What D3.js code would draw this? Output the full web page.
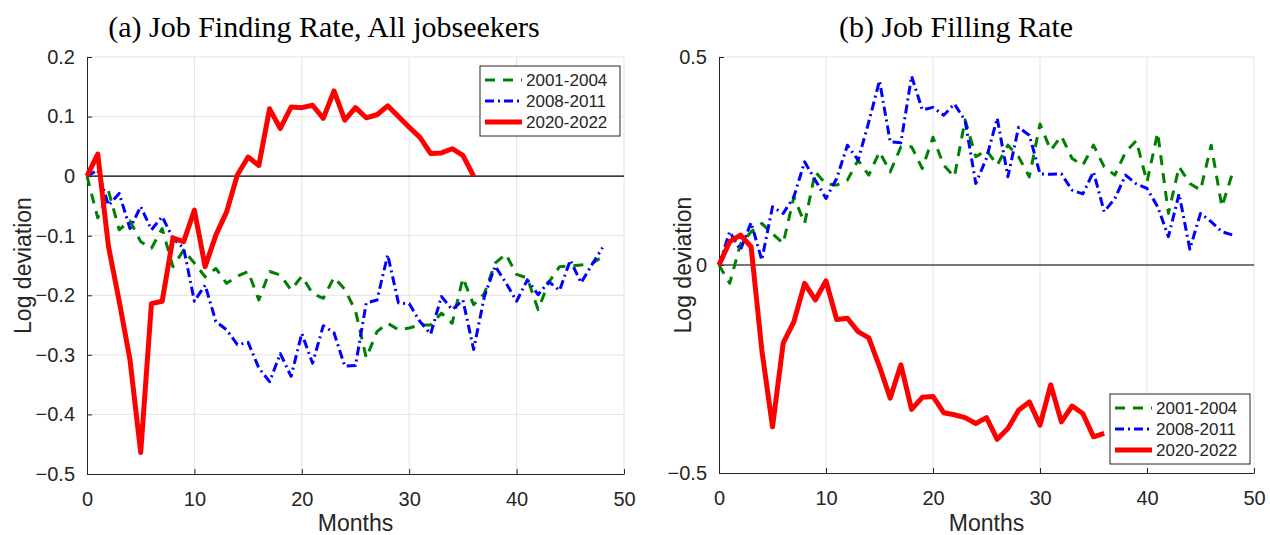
<!DOCTYPE html>
<html>
<head>
<meta charset="utf-8">
<script src="https://cdn.jsdelivr.net/npm/d3@7"></script>
<style>
    body { margin: 0; background: #fff; }
    svg { display: block; }
    text { font-family: "Liberation Sans", Arial, sans-serif; fill: #262626; }
    .title { font-family: "Liberation Serif", "DejaVu Serif", serif; fill: #000; }
</style>
</head>
<body>
<svg id="chart" width="1270" height="535"></svg>
<script>
// months run 0..48 for the two earlier recessions, 0..36 for covid
let seriesNames = ["2001-2004", "2008-2011", "2020-2022"];

let findRate2001 = [0, -0.07, -0.025, -0.09, -0.075, -0.11, -0.121, -0.088, -0.152, -0.124,
    -0.146, -0.169, -0.155, -0.18, -0.168, -0.16, -0.208, -0.16, -0.166, -0.191,
    -0.168, -0.197, -0.205, -0.17, -0.19, -0.226, -0.305, -0.261, -0.247, -0.258,
    -0.255, -0.25, -0.25, -0.23, -0.247, -0.171, -0.216, -0.197, -0.146, -0.131,
    -0.165, -0.171, -0.224, -0.178, -0.152, -0.151, -0.149, -0.147, -0.135];
let findRate2008 = [0, 0.01, -0.049, -0.029, -0.088, -0.051, -0.09, -0.068, -0.104, -0.121,
    -0.21, -0.183, -0.244, -0.258, -0.283, -0.279, -0.322, -0.345, -0.298, -0.336,
    -0.264, -0.314, -0.251, -0.263, -0.319, -0.318, -0.213, -0.208, -0.132, -0.213,
    -0.214, -0.244, -0.265, -0.202, -0.224, -0.208, -0.291, -0.202, -0.151, -0.179,
    -0.21, -0.174, -0.199, -0.177, -0.192, -0.141, -0.179, -0.149, -0.12];
let findRate2020 = [0, 0.037, -0.118, -0.21, -0.308, -0.464, -0.214, -0.21, -0.104, -0.11,
    -0.057, -0.152, -0.099, -0.06, 0.002, 0.032, 0.018, 0.113, 0.08, 0.116,
    0.115, 0.119, 0.097, 0.143, 0.094, 0.115, 0.098, 0.103, 0.118, 0.1,
    0.082, 0.065, 0.038, 0.039, 0.046, 0.035, 0];

let fillRate2001 = [0, -0.044, 0.05, 0.08, 0.1, 0.075, 0.052, 0.164, 0.1, 0.224,
    0.195, 0.192, 0.204, 0.252, 0.216, 0.272, 0.224, 0.284, 0.284, 0.232,
    0.307, 0.24, 0.212, 0.349, 0.26, 0.276, 0.24, 0.288, 0.26, 0.212,
    0.339, 0.276, 0.31, 0.256, 0.24, 0.288, 0.236, 0.216, 0.272, 0.299,
    0.2, 0.318, 0.124, 0.236, 0.196, 0.18, 0.288, 0.14, 0.222];
let fillRate2008 = [0, 0.08, 0.036, 0.102, 0.012, 0.14, 0.124, 0.164, 0.248, 0.204,
    0.16, 0.208, 0.288, 0.252, 0.344, 0.443, 0.296, 0.294, 0.454, 0.373,
    0.379, 0.36, 0.387, 0.347, 0.196, 0.257, 0.353, 0.212, 0.331, 0.312,
    0.219, 0.218, 0.219, 0.18, 0.171, 0.224, 0.128, 0.16, 0.216, 0.195,
    0.184, 0.14, 0.068, 0.171, 0.038, 0.124, 0.104, 0.08, 0.072];
let fillRate2020 = [0, 0.056, 0.072, 0.044, -0.204, -0.389, -0.188, -0.136, -0.044, -0.084,
    -0.038, -0.131, -0.128, -0.16, -0.175, -0.244, -0.32, -0.24, -0.347, -0.318,
    -0.316, -0.355, -0.36, -0.367, -0.381, -0.367, -0.419, -0.393, -0.349, -0.329,
    -0.385, -0.288, -0.377, -0.339, -0.357, -0.413, -0.405];

let xTicks = [0, 10, 20, 30, 40, 50];
let findTicks = [-0.5, -0.4, -0.3, -0.2, -0.1, 0, 0.1, 0.2];
let fillTicks = [-0.5, 0, 0.5];

let styles = [
    {color: "#008000", width: 3, dash: "10,8"},
    {color: "#0000ff", width: 3, dash: "9,4,2,4"},
    {color: "#ff0000", width: 5, dash: null}
];

let svg = d3.select("#chart");

function fmt(v) {
    if (v === 0) return "0";
    return d3.format(".1f")(v);
}

function drawPanel(p) {
    let x = d3.scaleLinear().domain([0, 50]).range([p.left, p.right]);
    let y = d3.scaleLinear().domain(p.yDomain).range([p.bottom, p.top]);
    let g = svg.append("g");

    // grid
    g.selectAll(".vgrid").data(xTicks.slice(1)).enter().append("line")
        .attr("x1", d => x(d)).attr("x2", d => x(d))
        .attr("y1", p.top).attr("y2", p.bottom)
        .attr("stroke", "#e3e3e3").attr("stroke-width", 1);
    g.selectAll(".hgrid").data(p.yTicks.slice(1)).enter().append("line")
        .attr("x1", p.left).attr("x2", p.right)
        .attr("y1", d => y(d)).attr("y2", d => y(d))
        .attr("stroke", "#e3e3e3").attr("stroke-width", 1);

    // zero line
    g.append("line")
        .attr("x1", p.left).attr("x2", p.right)
        .attr("y1", y(0)).attr("y2", y(0))
        .attr("stroke", "#000").attr("stroke-width", 1.2);

    // axes
    let xAxis = d3.axisBottom(x).tickValues(xTicks).tickSizeInner(-5).tickSizeOuter(0)
        .tickPadding(14).tickFormat(d3.format("d"));
    let yAxis = d3.axisLeft(y).tickValues(p.yTicks).tickSizeInner(-5).tickSizeOuter(0)
        .tickPadding(12).tickFormat(fmt);

    let gx = g.append("g").attr("transform", "translate(0," + p.bottom + ")").call(xAxis);
    let gy = g.append("g").attr("transform", "translate(" + p.left + ",0)").call(yAxis);
    [gx, gy].forEach(function (a) {
        a.select(".domain").attr("stroke", "#262626").attr("stroke-width", 1);
        a.selectAll(".tick line").attr("stroke", "#262626");
        a.selectAll(".tick text").attr("font-size", 20).attr("fill", "#262626")
            .style("font-family", "'Liberation Sans', Arial, sans-serif");
    });
    gx.selectAll(".tick text").attr("dy", "0.9em");

    // lines
    let line = d3.line()
        .x((d, i) => x(i))
        .y(d => y(d));

    p.series.forEach(function (s, i) {
        let st = styles[i];
        g.append("path")
            .datum(s)
            .attr("d", line)
            .attr("fill", "none")
            .attr("stroke", st.color)
            .attr("stroke-width", st.width)
            .attr("stroke-linejoin", "round")
            .attr("stroke-dasharray", st.dash);
    });

    // labels
    g.append("text")
        .attr("class", "title")
        .attr("x", p.titleX).attr("y", 37)
        .attr("text-anchor", "middle")
        .attr("font-size", 30)
        .text(p.title);

    g.append("text")
        .attr("x", (p.left + p.right) / 2).attr("y", 531)
        .attr("text-anchor", "middle")
        .attr("font-size", 23)
        .text("Months");

    g.append("text")
        .attr("transform", "translate(" + p.ylabX + "," + ((p.top + p.bottom) / 2) + ") rotate(-90)")
        .attr("text-anchor", "middle")
        .attr("dy", "0.35em")
        .attr("font-size", 23)
        .text("Log deviation");

    // legend
    let lg = g.append("g").attr("transform", "translate(" + p.legend[0] + "," + p.legend[1] + ")");
    lg.append("rect")
        .attr("width", 140).attr("height", 70)
        .attr("fill", "#fff").attr("stroke", "#262626").attr("stroke-width", 1);
    seriesNames.forEach(function (name, i) {
        let st = styles[i];
        let yy = 14 + i * 21;
        lg.append("line")
            .attr("x1", 5).attr("x2", 42)
            .attr("y1", yy).attr("y2", yy)
            .attr("stroke", st.color)
            .attr("stroke-width", st.width)
            .attr("stroke-dasharray", st.dash);
        lg.append("text")
            .attr("x", 46).attr("y", yy)
            .attr("dy", "0.36em")
            .attr("font-size", 17)
            .attr("fill", "#000")
            .text(name);
    });
}

drawPanel({
    left: 87, right: 624, top: 57, bottom: 474,
    yDomain: [-0.5, 0.2], yTicks: findTicks,
    series: [findRate2001, findRate2008, findRate2020],
    title: "(a) Job Finding Rate, All jobseekers", titleX: 324,
    ylabX: 23, legend: [480, 66]
});

drawPanel({
    left: 719, right: 1254, top: 57, bottom: 473,
    yDomain: [-0.5, 0.5], yTicks: fillTicks,
    series: [fillRate2001, fillRate2008, fillRate2020],
    title: "(b) Job Filling Rate", titleX: 956,
    ylabX: 683, legend: [1110, 394]
});
</script>
</body>
</html>
